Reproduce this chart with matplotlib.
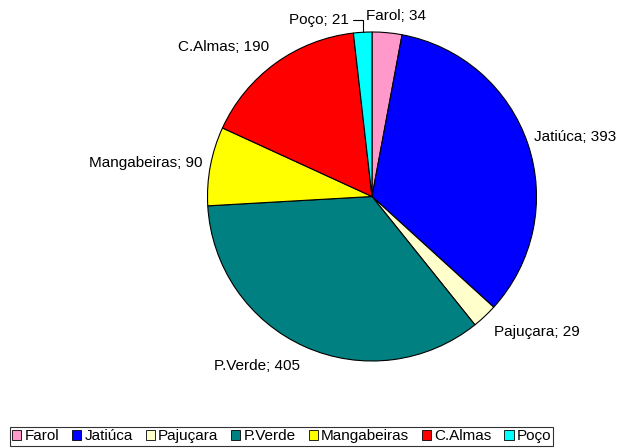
import numpy as np
import matplotlib
matplotlib.use("Agg")
import matplotlib.pyplot as plt

plt.rcParams['font.family'] = ['Liberation Sans', 'DejaVu Sans']

# Dados
bairros = ['Farol', 'Jatiúca', 'Pajuçara', 'P.Verde', 'Mangabeiras', 'C.Almas', 'Poço']
valores = [34, 393, 29, 405, 90, 190, 21]
cores = ['#FF99CC', '#0000FF', '#FFFFCC', '#008080', '#FFFF00', '#FF0000', '#00FFFF']

# posicao dos rotulos (deslocamento em pixels a partir da borda da fatia)
desloc = [(9, 17), (6, 7), (9, -16), (-5, -19), (-8, 3), (-6, 16), (-14, 12)]
alinh = ['center', 'left', 'left', 'right', 'right', 'right', 'right']

fig = plt.figure(figsize=(6.21, 4.48), dpi=100)
R = 164.5
cx, cy = 372, 196.5
ax = fig.add_axes([(cx - R) / 621, (448 - cy - R) / 448, 2 * R / 621, 2 * R / 448])

wedges, _ = ax.pie(valores, colors=cores, startangle=90, counterclock=False,
                   wedgeprops=dict(edgecolor='black', linewidth=0.8))
ax.set_xlim(-1, 1)
ax.set_ylim(-1, 1)
ax.set_aspect('equal')
ax.axis('off')

for i, w in enumerate(wedges):
    ang = np.deg2rad((w.theta1 + w.theta2) / 2)
    x, y = np.cos(ang), np.sin(ang)
    texto = f"{bairros[i]}; {valores[i]}"
    if bairros[i] == 'Poço':
        ax.annotate(texto, xy=(x, y), xytext=desloc[i], textcoords='offset pixels',
                    ha=alinh[i], va='center', fontsize=11,
                    arrowprops=dict(arrowstyle='-', color='black', lw=0.8,
                                    shrinkA=1, shrinkB=0,
                                    connectionstyle='angle,angleA=0,angleB=90,rad=0'))
    else:
        ax.annotate(texto, xy=(x, y), xytext=desloc[i], textcoords='offset pixels',
                    ha=alinh[i], va='center', fontsize=11)

leg = fig.legend(wedges, bairros, loc='upper left', bbox_to_anchor=(10 / 621, 1 - 427 / 448),
                 ncol=len(bairros), fontsize=11, frameon=True, fancybox=False,
                 handlelength=0.6, handleheight=0.6, handletextpad=0.2,
                 columnspacing=0.85, borderpad=0.15, borderaxespad=0)
leg.get_frame().set_edgecolor('black')
leg.get_frame().set_linewidth(0.8)
for h in leg.legend_handles:
    h.set_linewidth(0.6)

fig.savefig('out.png', dpi=100)
